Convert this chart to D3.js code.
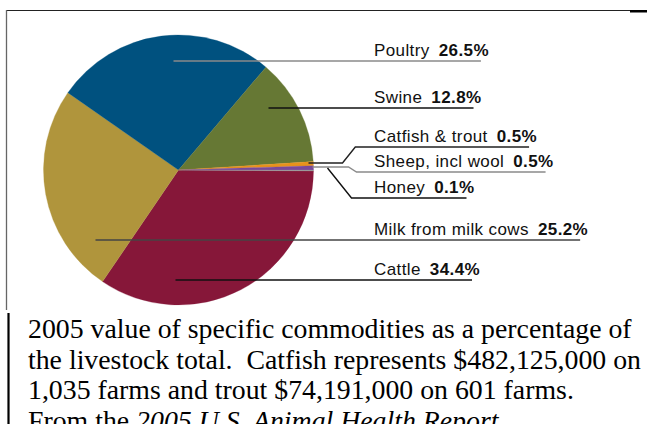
<!DOCTYPE html>
<html><head><meta charset="utf-8">
<script src="https://cdn.jsdelivr.net/npm/d3@7"></script>
<style>
body{margin:0;background:#fff;}
svg{display:block;}
text{white-space:pre;}
</style></head>
<body>
<svg id="c" width="647" height="424"></svg>
<script>
// ---- data ----
const categories = ["Cattle","Milk from milk cows","Poultry","Swine","Catfish & trout","Sheep, incl wool","Honey"];
const values = [34.4, 25.2, 26.5, 12.8, 0.5, 0.5, 0.1];
const valueLabels = ["34.4%","25.2%","26.5%","12.8%","0.5%","0.5%","0.1%"];
const colors = ["#861739","#b0953c","#00517f","#667834","#e8921c","#7a4a9a","#9a9a9a"];
const captionLines = [
  [{t:"2005 value of specific commodities as a percentage of"}],
  [{t:"the livestock total.  Catfish represents $482,125,000 on"}],
  [{t:"1,035 farms and trout $74,191,000 on 601 farms."}],
  [{t:"From the "},{t:"2005 U.S. Animal Health Report",i:true},{t:"."}]
];

// ---- layout (label placement, not data) ----
const cx = 178.5, cy = 170, R = 135;
const labelX = 374;
const labelLayout = {
  "Poultry":            {y:61,  pts:[[-5,-109]], stroke:"#8a8a8a"},
  "Swine":              {y:108, pts:[[90,-62]], stroke:"#111"},
  "Catfish & trout":    {y:147, pts:[[130,-7],[164,-7]], stroke:"#222"},
  "Sheep, incl wool":   {y:172, pts:[[134,-3],[170,-3]], stroke:"#8a8a8a"},
  "Honey":              {y:198, pts:[[149,-2]], stroke:"#111"},
  "Milk from milk cows":{y:240, pts:[[-83,70]], stroke:"#444"},
  "Cattle":             {y:280, pts:[[-3,110]], stroke:"#111"}
};

const svg = d3.select("#c");

// frame
svg.append("line").attr("x1",6).attr("y1",10.5).attr("x2",630).attr("y2",10.5).attr("stroke","#222").attr("stroke-width",1.2);
svg.append("rect").attr("x",630).attr("y",10).attr("width",17).attr("height",2.5).attr("fill","#000");
svg.append("line").attr("x1",6.5).attr("y1",10).attr("x2",6.5).attr("y2",310).attr("stroke","#666").attr("stroke-width",1.3);
svg.append("line").attr("x1",8.5).attr("y1",313).attr("x2",8.5).attr("y2",424).attr("stroke","#000").attr("stroke-width",2.2);

// pie
const data = categories.map((c,i)=>({name:c, value:values[i], label:valueLabels[i], color:colors[i]}));
const startDeg = 90.4;
const pie = d3.pie().value(d=>d.value).sort(null)
  .startAngle(startDeg*Math.PI/180).endAngle((startDeg+360)*Math.PI/180);
const arc = d3.arc().innerRadius(0).outerRadius(R);
const g = svg.append("g").attr("transform",`translate(${cx},${cy})`);
g.selectAll("path").data(pie(data)).join("path")
  .attr("d",arc).attr("fill",d=>d.data.color).attr("stroke",d=>d.data.color).attr("stroke-width",0.3);

// labels
const lg = svg.append("g");
data.forEach(d=>{
  const L = labelLayout[d.name];
  const t = lg.append("text").attr("x",labelX).attr("y",L.y-5)
    .attr("font-family","Liberation Sans, Arial, sans-serif").attr("font-size",17)
    .attr("fill","#111").attr("letter-spacing",0.4);
  t.append("tspan").text(d.name);
  t.append("tspan").attr("font-weight","bold").attr("dx",9).text(d.label);
  const w = t.node().getComputedTextLength();
  const endX = labelX + w + 1;
  const pts = L.pts.map(p=>[cx+p[0], cy+p[1]]);
  const last = pts[pts.length-1];
  if (Math.abs(last[1]-L.y) > 1) pts.push([Math.max(last[0]+Math.abs(L.y-last[1])*0.8, last[0]+8), L.y]);
  else pts[pts.length-1] = [last[0], L.y];
  pts.push([endX, L.y]);
  lg.append("path").attr("d",d3.line()(pts)).attr("fill","none")
    .attr("stroke",L.stroke).attr("stroke-width",1.4);
});

// caption
const cap = svg.append("g");
captionLines.forEach((line,i)=>{
  const t = cap.append("text").attr("x",28).attr("y",338+i*30.5)
    .attr("font-family","Liberation Serif, Times New Roman, serif").attr("font-size",27.8).attr("fill","#000");
  line.forEach(s=>{ const sp=t.append("tspan").text(s.t); if(s.i) sp.attr("font-style","italic"); });
});
</script>
</body></html>
